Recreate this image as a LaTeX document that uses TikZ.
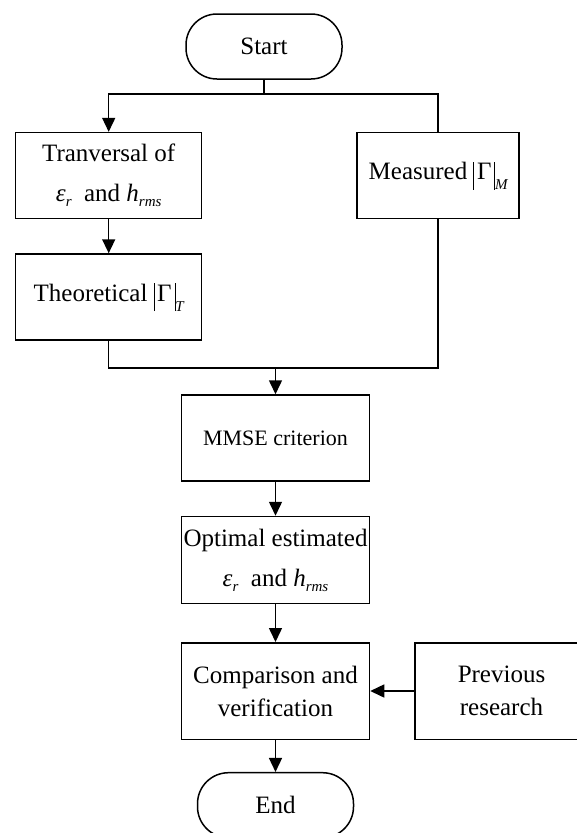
\documentclass[tikz,border=0pt]{standalone}
\usepackage{fontspec}
\setmainfont{Liberation Serif}
\usetikzlibrary{arrows.meta}
\newcommand{\lowsub}[2]{\raisebox{-#1}{\fontsize{15}{15}\selectfont\itshape #2}}
\newcommand{\epsR}{{\itshape ε}\lowsub{5pt}{r}}
\newcommand{\hRms}{{\itshape h}\lowsub{5pt}{rms}}
\newcommand{\absGam}[1]{\hspace{6pt}\rule[-10pt]{0.7pt}{28pt}\hspace{3pt}Γ\hspace{3pt}\rule[-10pt]{0.7pt}{28pt}\lowsub{10pt}{#1}}
\tikzset{
  box/.style={draw, line width=1.5pt, inner sep=0pt, align=center, font=\fontsize{25}{33}\selectfont},
  term/.style={box, rounded corners=31pt, minimum width=156pt, minimum height=65pt},
  conn/.style={line width=1.5pt},
  arr/.style={conn, -{Triangle[length=14pt,width=13pt]}}
}
\begin{document}
\begin{tikzpicture}[x=1pt,y=-1pt]
\useasboundingbox[fill=white] (0,0) rectangle (577,833);
\node[term] (start) at (264,46.5) {Start};
\node[box, minimum width=186pt, minimum height=86pt] (tran) at (108.7,175.6) {Tranversal of\\[7pt]\epsR\ \ and \hRms};
\node[box, minimum width=162pt, minimum height=86pt] (meas) at (438.2,175.6) {Measured\absGam{M}};
\node[box, minimum width=186pt, minimum height=86pt] (theo) at (108.7,297) {Theoretical\absGam{T}};
\node[box, minimum width=188pt, minimum height=86pt, font=\fontsize{22}{26}\selectfont] (mmse) at (275.5,438) {MMSE criterion};
\node[box, minimum width=188pt, minimum height=87pt] (opt) at (275.5,560) {Optimal estimated\\[7pt]\epsR\ \ and \hRms};
\node[box, minimum width=188pt, minimum height=96.5pt] (comp) at (275.5,691) {Comparison and\\verification};
\node[box, minimum width=173pt, minimum height=96.5pt] (prev) at (501.5,691) {Previous\\research};
\node[term] (end) at (275.5,805.2) {End};
\coordinate (j1) at (264,94);
\coordinate (j2) at (275.5,368);
\draw[conn] (start.south) -- (j1);
\draw[arr] (j1) -| (tran.north);
\draw[conn] (j1) -| (meas.north);
\draw[arr] (tran) -- (theo);
\draw[conn] (theo.south) |- (j2);
\draw[conn] (meas.south) |- (j2);
\draw[arr] (j2) -- (mmse.north);
\draw[arr] (mmse) -- (opt);
\draw[arr] (opt) -- (comp);
\draw[arr] (prev) -- (comp);
\draw[arr] (comp) -- (end);
\end{tikzpicture}
\end{document}
